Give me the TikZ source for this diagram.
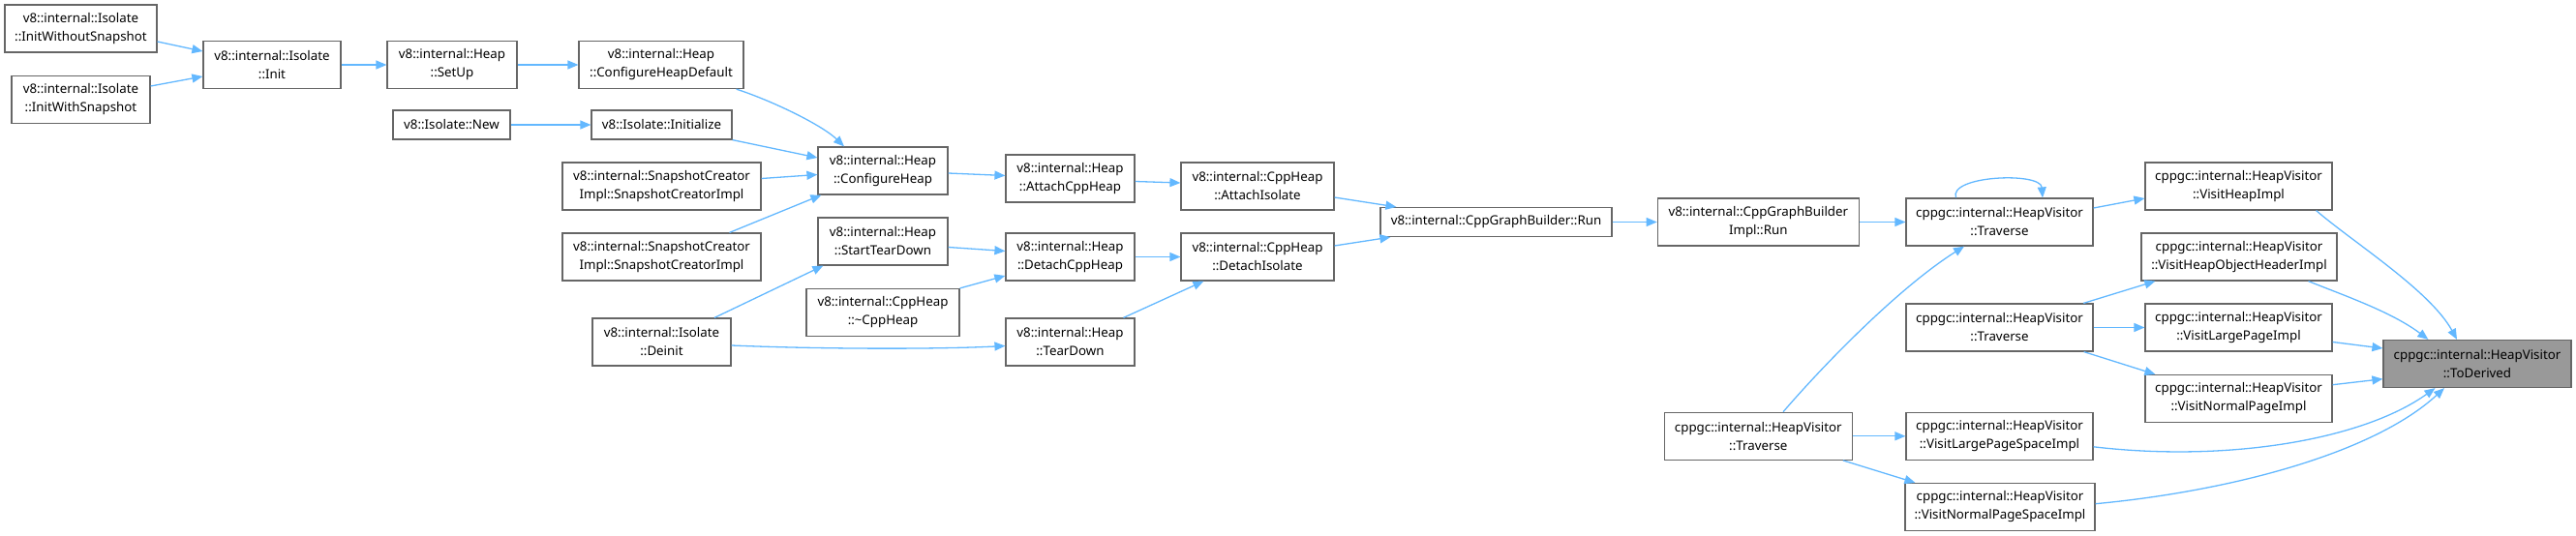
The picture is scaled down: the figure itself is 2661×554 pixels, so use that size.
\documentclass[tikz,border=0pt]{standalone}
\usepackage{fontspec}
\setmainfont{Noto Sans}
\usetikzlibrary{arrows.meta,calc}
\definecolor{edgeblue}{HTML}{63B8FF}
\definecolor{boxline}{HTML}{666666}
\definecolor{focusfill}{HTML}{999999}
\begin{document}
\begin{tikzpicture}[x=1pt,y=-1pt,
  fn/.style={draw=boxline, line width=1.2pt, fill=white, inner sep=0pt, align=center,
    font=\fontsize{13.3}{19}\selectfont, text=black, minimum height=49pt},
  fn1/.style={fn, minimum height=30pt},
  focus/.style={fn, fill=focusfill},
  edge/.style={draw=edgeblue, line width=1.3pt, -{Triangle[length=11pt,width=9pt]}}]
\useasboundingbox (0,0) rectangle (2661,554);

% nodes
\node[fn, minimum width=157pt] (iws) at (83.5,29.5) {v8::internal::Isolate\\::InitWithoutSnapshot};
\node[fn, minimum width=143pt] (iwith) at (83.5,103) {v8::internal::Isolate\\::InitWithSnapshot};
\node[fn, minimum width=142pt] (init) at (281,67) {v8::internal::Isolate\\::Init};
\node[fn, minimum width=134pt] (setup) at (467,67) {v8::internal::Heap\\::SetUp};
\node[fn, minimum width=170pt] (chd) at (683,67) {v8::internal::Heap\\::ConfigureHeapDefault};
\node[fn1, minimum width=121pt] (new) at (466.5,129) {v8::Isolate::New};
\node[fn1, minimum width=145pt] (initz) at (683.5,129) {v8::Isolate::Initialize};
\node[fn, minimum width=205pt] (sc1) at (683.5,192.5) {v8::internal::SnapshotCreator\\Impl::SnapshotCreatorImpl};
\node[fn, minimum width=205pt] (sc2) at (683.5,265.5) {v8::internal::SnapshotCreator\\Impl::SnapshotCreatorImpl};
\node[fn, minimum width=143pt] (deinit) at (683.5,353.5) {v8::internal::Isolate\\::Deinit};
\node[fn, minimum width=134pt] (ch) at (912,176.5) {v8::internal::Heap\\::ConfigureHeap};
\node[fn, minimum width=134pt] (std) at (912,249.5) {v8::internal::Heap\\::StartTearDown};
\node[fn, minimum width=158pt] (dtor) at (912,323) {v8::internal::CppHeap\\::\textasciitilde CppHeap};
\node[fn, minimum width=133pt] (ach) at (1105.5,184.5) {v8::internal::Heap\\::AttachCppHeap};
\node[fn, minimum width=133pt] (dch) at (1105.5,265.5) {v8::internal::Heap\\::DetachCppHeap};
\node[fn, minimum width=133pt] (td) at (1105.5,353.5) {v8::internal::Heap\\::TearDown};
\node[fn, minimum width=158pt] (ai) at (1299,192.5) {v8::internal::CppHeap\\::AttachIsolate};
\node[fn, minimum width=158pt] (di) at (1299,265.5) {v8::internal::CppHeap\\::DetachIsolate};
\node[fn1, minimum width=239pt] (run) at (1545.5,229.5) {v8::internal::CppGraphBuilder::Run};
\node[fn, minimum width=208pt] (irun) at (1816.3,229.5) {v8::internal::CppGraphBuilder\\Impl::Run};
\node[fn, minimum width=193pt] (tr1) at (2065.5,229.5) {cppgc::internal::HeapVisitor\\::Traverse};
\node[fn, minimum width=193pt] (vhi) at (2312.5,192.5) {cppgc::internal::HeapVisitor\\::VisitHeapImpl};
\node[fn, minimum width=202pt] (vhohi) at (2313,265.5) {cppgc::internal::HeapVisitor\\::VisitHeapObjectHeaderImpl};
\node[fn, minimum width=193pt] (tr2) at (2065.5,338.5) {cppgc::internal::HeapVisitor\\::Traverse};
\node[fn, minimum width=193pt] (vlpi) at (2312.5,338.5) {cppgc::internal::HeapVisitor\\::VisitLargePageImpl};
\node[fn, minimum width=193pt] (vnpi) at (2312.5,412) {cppgc::internal::HeapVisitor\\::VisitNormalPageImpl};
\node[focus, minimum width=194pt] (todr) at (2559,376) {cppgc::internal::HeapVisitor\\::ToDerived};
\node[fn, minimum width=194pt] (tr3) at (1816.3,450.8) {cppgc::internal::HeapVisitor\\::Traverse};
\node[fn, minimum width=193pt] (vlpsi) at (2065.5,450.8) {cppgc::internal::HeapVisitor\\::VisitLargePageSpaceImpl};
\node[fn, minimum width=196pt] (vnpsi) at (2066,524) {cppgc::internal::HeapVisitor\\::VisitNormalPageSpaceImpl};

% edges
\draw[edge] ($(iws.east)+(0,13.5)$) -- ($(init.west)+(0,-14)$);
\draw[edge] ($(iwith.east)+(0,-14)$) -- ($(init.west)+(0,12)$);
\draw[edge] (init.east) -- (setup.west);
\draw[edge] (setup.east) -- (chd.west);
\draw[edge] ($(chd.south east)+(-8,0)$) .. controls (800,105) and (850,130) .. ($(ch.north)+(-40,0)$);
\draw[edge] (new.east) -- (initz.west);
\draw[edge] (initz.south east) -- ($(ch.west)+(0,-13.5)$);
\draw[edge] ($(sc1.east)+(0,-8)$) -- ($(ch.west)+(0,4)$);
\draw[edge] ($(sc2.north)+(70,0)$) -- ($(ch.south west)+(4,0)$);
\draw[edge] ($(deinit.north)+(54.5,0)$) -- ($(std.south west)+(6,0)$);
\draw[edge] ($(deinit.east)+(0,3.5)$) .. controls (850,361) and (970,361) .. ($(td.west)+(0,4)$);
\draw[edge] ($(ch.east)+(0,2.5)$) -- ($(ach.west)+(0,-3)$);
\draw[edge] ($(ach.east)+(0,3)$) -- ($(ai.west)+(0,-3.5)$);
\draw[edge] ($(ai.east)+(0,11.5)$) -- ($(run.north west)+(17,0)$);
\draw[edge] ($(std.east)+(0,6)$) -- ($(dch.west)+(0,-6)$);
\draw[edge] (dtor.north east) -- ($(dch.west)+(0,19.5)$);
\draw[edge] (dch.east) -- (di.west);
\draw[edge] ($(td.north)+(55,0)$) -- ($(di.south west)+(24,0)$);
\draw[edge] ($(di.east)+(0,-11.5)$) -- ($(run.south west)+(11,0)$);
\draw[edge] (run.east) -- (irun.west);
\draw[edge] (irun.east) -- (tr1.west);
\draw[edge] ($(tr1.north)+(-45,0)$) .. controls ($(tr1.north)+(-53.5,-23)$) and ($(tr1.north)+(42.5,-27)$) .. ($(tr1.north)+(44.5,0)$);
\draw[edge] ($(tr1.east)+(0,-14.5)$) -- ($(vhi.west)+(0,12.5)$);
\draw[edge] ($(tr3.north)+(25.7,0)$) .. controls (1890,370) and (1965,295) .. ($(tr1.south)+(-36.5,0)$);
\draw[edge] ($(tr2.north east)+(-10.4,0)$) -- ($(vhohi.south west)+(15,0)$);
\draw[edge] (tr2.east) -- (vlpi.west);
\draw[edge] ($(tr2.south east)+(-10,0)$) -- ($(vnpi.north west)+(11,0)$);
\draw[edge] (tr3.east) -- (vlpsi.west);
\draw[edge] ($(tr3.south east)+(-10,0)$) -- ($(vnpsi.north west)+(11,0)$);
\draw[edge] ($(vhi.south east)+(-17,0)$) .. controls (2430,250) and (2510,300) .. ($(todr.north)+(-21,0)$);
\draw[edge] ($(vhohi.south)+(71.6,0)$) .. controls (2420,305) and (2470,322) .. ($(todr.north west)+(47,0)$);
\draw[edge] ($(vlpi.east)+(0,15)$) -- ($(todr.west)+(0,-16)$);
\draw[edge] ($(vnpi.east)+(0,-14.3)$) -- ($(todr.west)+(0,15.7)$);
\draw[edge] ($(vlpsi.east)+(0,11)$) .. controls (2300,478) and (2440,455) .. ($(todr.south)+(-43.5,0)$);
\draw[edge] ($(vnpsi.east)+(0,-3.3)$) .. controls (2300,508) and (2450,470) .. ($(todr.south)+(-34,0)$);
\end{tikzpicture}
\end{document}
